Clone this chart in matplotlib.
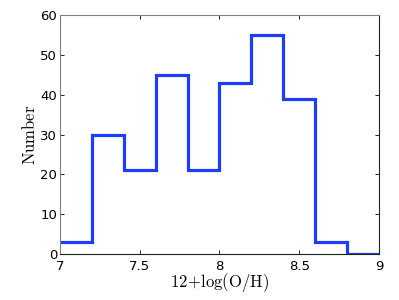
import matplotlib
matplotlib.use("AGG")
import numpy as np
import matplotlib.pyplot as plt

plt.rcParams['mathtext.fontset'] = 'cm'

edges = [7.0, 7.2, 7.4, 7.6, 7.8, 8.0, 8.2, 8.4, 8.6, 8.8, 9.0]
counts = [3, 30, 21, 45, 21, 43, 55, 39, 3, 0]
xticks = [7, 7.5, 8, 8.5, 9]
xticklabels = ['7', '7.5', '8', '8.5', '9']
yticks = [0, 10, 20, 30, 40, 50, 60]

fig = plt.figure(figsize=(3.99, 3.0), dpi=100)
ax = fig.add_axes([0.150, 0.153, 0.800, 0.797])

ax.stairs(counts, edges, baseline=None, color='#1f3dff', linewidth=2.3)

ax.set_xlim(7, 9)
ax.set_ylim(0, 60)
ax.set_xticks(xticks)
ax.set_xticklabels(xticklabels)
ax.set_yticks(yticks)
ax.tick_params(direction='in', length=3, width=0.6, labelsize=9.5,
               top=True, right=True)
ax.tick_params(axis='y', pad=2)
ax.tick_params(axis='x', pad=4)
for s in ['left', 'top']:
    ax.spines[s].set_color('#808080')
for s in ['right', 'bottom']:
    ax.spines[s].set_color('#202020')
for s in ax.spines.values():
    s.set_linewidth(0.8)

ax.set_xlabel(r'$\mathrm{12\!+\!log(O/H)}$', fontsize=12, labelpad=-1)
ax.set_ylabel(r'$\mathrm{Number}$', fontsize=12, labelpad=1)

fig.savefig('out.png', dpi=100)
